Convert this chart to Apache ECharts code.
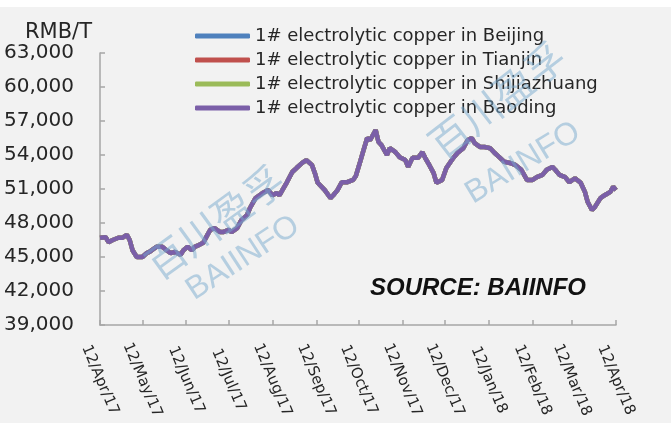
<!DOCTYPE html>
<html>
<head>
<meta charset="utf-8">
<script src="https://cdn.jsdelivr.net/npm/echarts@6/dist/echarts.min.js"></script>
<style>
html,body{margin:0;padding:0;background:#f2f2f2;}
#chart{width:671px;height:423px;}
</style>
</head>
<body>
<div id="chart"></div>
<script>
var dates = ['2017-04-12','2017-04-16','2017-04-18','2017-04-21','2017-04-25','2017-04-28','2017-05-01','2017-05-03','2017-05-05','2017-05-08',
    '2017-05-12','2017-05-15','2017-05-17','2017-05-22','2017-05-26','2017-05-29','2017-06-01','2017-06-04','2017-06-08','2017-06-10',
    '2017-06-13','2017-06-16','2017-06-18','2017-06-20','2017-06-24','2017-06-27','2017-06-29','2017-07-02','2017-07-06','2017-07-08',
    '2017-07-12','2017-07-14','2017-07-18','2017-07-21','2017-07-25','2017-07-27','2017-07-31','2017-08-03','2017-08-05','2017-08-09',
    '2017-08-12','2017-08-15','2017-08-17','2017-08-19','2017-08-22','2017-08-26','2017-08-29','2017-09-02','2017-09-05','2017-09-09',
    '2017-09-11','2017-09-13','2017-09-18','2017-09-22','2017-09-24','2017-09-27','2017-09-30','2017-10-04','2017-10-08','2017-10-10',
    '2017-10-13','2017-10-15','2017-10-18','2017-10-20','2017-10-24','2017-10-26','2017-10-28','2017-11-01','2017-11-03','2017-11-07',
    '2017-11-10','2017-11-14','2017-11-16','2017-11-19','2017-11-23','2017-11-26','2017-11-28','2017-12-01','2017-12-04','2017-12-06',
    '2017-12-10','2017-12-13','2017-12-18','2017-12-21','2017-12-25','2017-12-28','2017-12-31','2018-01-02','2018-01-06','2018-01-09',
    '2018-01-13','2018-01-16','2018-01-20','2018-01-23','2018-01-27','2018-01-31','2018-02-04','2018-02-08','2018-02-12','2018-02-15',
    '2018-02-19','2018-02-22','2018-02-26','2018-02-28','2018-03-03','2018-03-07','2018-03-10','2018-03-14','2018-03-18','2018-03-21',
    '2018-03-23','2018-03-26','2018-03-28','2018-04-01','2018-04-04','2018-04-08','2018-04-10','2018-04-12'];

// the four city lines lie on top of each other in the picture
var beijing = [46700,46750,46300,46500,46700,46700,46950,46500,45600,45000,
    45000,45350,45450,45900,45900,45600,45350,45450,45200,45600,
    45900,45600,45900,46000,46250,46950,47400,47550,47200,47200,
    47400,47200,47550,48250,48700,49300,50200,50450,50650,50900,
    50450,50650,50450,50900,51550,52500,52850,53300,53550,53100,
    52400,51550,50900,50200,50450,50900,51600,51600,51800,52150,
    53400,54250,55500,55300,56200,55150,54900,54000,54600,54250,
    53800,53550,52950,53750,53750,54250,53750,53100,52400,51550,
    51800,52850,53750,54200,54600,55300,55500,55050,54700,54700,
    54600,54200,53750,53400,53300,53100,52700,51800,51800,52050,
    52250,52700,52950,52700,52250,52050,51600,51950,51550,50750,
    49850,49150,49400,50200,50450,50750,51200,50900];
var tianjin = beijing.slice();
var shijiazhuang = beijing.slice();
var baoding = beijing.slice();

var seriesNames = ['1# electrolytic copper in Beijing', '1# electrolytic copper in Tianjin',
    '1# electrolytic copper in Shijiazhuang', '1# electrolytic copper in Baoding'];
var seriesColors = ['#4f81bd', '#c0504d', '#9bbb59', '#7b5fa8'];

var monthNames = ['Jan','Feb','Mar','Apr','May','Jun','Jul','Aug','Sep','Oct','Nov','Dec'];

// one category per calendar day, 12/Apr/17 .. 12/Apr/18
var days = [];
var start = Date.UTC(2017, 3, 12);
for (var i = 0; i <= 365; i++) {
    days.push(new Date(start + i * 86400000).toISOString().slice(0, 10));
}
function isTwelfth(idx, val) { return val.slice(8) === '12'; }

var chart = echarts.init(document.getElementById('chart'));

var series = [beijing, tianjin, shijiazhuang, baoding].map(function (vals, k) {
    return {
        name: seriesNames[k],
        type: 'line',
        symbol: 'none',
        lineStyle: {width: 4.5, color: seriesColors[k]},
        itemStyle: {color: seriesColors[k]},
        data: dates.map(function (d, i) { return [d, vals[i]]; }),
        z: 2 + k
    };
});

var wmColor = 'rgba(120,170,205,0.5)';

chart.setOption({
    backgroundColor: '#f2f2f2',
    animation: false,
    textStyle: {fontFamily: 'DejaVu Sans'},
    grid: {left: 100, right: 55, top: 53, bottom: 98},
    legend: {
        orient: 'vertical',
        left: 190,
        top: 22,
        itemWidth: 55,
        itemHeight: 5,
        itemGap: 6,
        icon: 'roundRect',
        textStyle: {fontSize: 18, color: '#262626', fontFamily: 'DejaVu Sans'},
        data: seriesNames
    },
    xAxis: {
        type: 'category',
        data: days,
        boundaryGap: false,
        axisLine: {lineStyle: {color: '#a6a6a6', width: 1.5}},
        axisTick: {inside: true, length: 5, interval: isTwelfth, lineStyle: {color: '#a6a6a6', width: 1.5}},
        axisLabel: {
            interval: isTwelfth,
            rotate: -67,
            align: 'center',
            verticalAlign: 'middle',
            margin: 55,
            fontSize: 15,
            color: '#262626',
            formatter: function (v) {
                return v.slice(8) + '/' + monthNames[+v.slice(5, 7) - 1] + '/' + v.slice(2, 4);
            }
        }
    },
    yAxis: {
        type: 'value',
        min: 39000,
        max: 63000,
        interval: 3000,
        splitLine: {show: false},
        axisLine: {show: true, lineStyle: {color: '#a6a6a6', width: 1.5}},
        axisTick: {show: true, inside: true, length: 5, lineStyle: {color: '#a6a6a6', width: 1.5}},
        axisLabel: {
            margin: 26,
            fontSize: 20,
            color: '#262626',
            formatter: function (v) { return v.toLocaleString('en-US'); }
        }
    },
    graphic: [
        {type: 'rect', left: 0, top: 0, shape: {width: 671, height: 7}, style: {fill: '#ffffff'}, silent: true},
        {type: 'text', left: 25, top: 22, style: {text: 'RMB/T', fontSize: 21, fontFamily: 'DejaVu Sans', fill: '#262626'}},
        {type: 'text', x: 370, y: 288, style: {text: 'SOURCE: BAIINFO', fontSize: 24, fontWeight: 'bold', fontStyle: 'italic',
            fontFamily: 'Liberation Sans', fill: '#111', verticalAlign: 'middle'}},
        // watermarks
        {type: 'text', x: 215, y: 222, rotation: 0.63, z: 100, silent: true,
            style: {text: '百川盈孚', fontSize: 40, fontFamily: 'Noto Sans CJK SC', fill: wmColor, align: 'center', verticalAlign: 'middle'}},
        {type: 'text', x: 243, y: 258, rotation: 0.58, z: 100, silent: true,
            style: {text: 'BAIINFO', fontSize: 32, fontFamily: 'Liberation Sans', fill: wmColor, align: 'center', verticalAlign: 'middle'}},
        {type: 'text', x: 497, y: 100, rotation: 0.66, z: 100, silent: true,
            style: {text: '百川盈孚', fontSize: 40, fontFamily: 'Noto Sans CJK SC', fill: wmColor, align: 'center', verticalAlign: 'middle'}},
        {type: 'text', x: 523, y: 163, rotation: 0.55, z: 100, silent: true,
            style: {text: 'BAIINFO', fontSize: 32, fontFamily: 'Liberation Sans', fill: wmColor, align: 'center', verticalAlign: 'middle'}}
    ],
    series: series
});
</script>
</body>
</html>
